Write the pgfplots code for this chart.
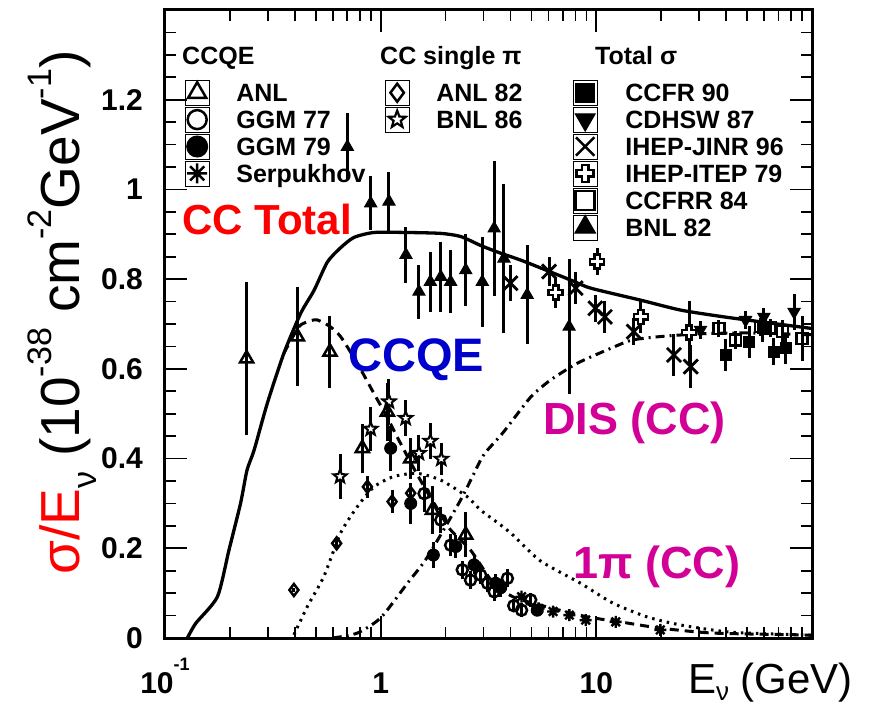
\documentclass[border=0pt]{standalone}
\usepackage{fontspec}
\setmainfont{Liberation Sans}
\usepackage{pgfplots}
\pgfplotsset{compat=1.18}
\definecolor{ccred}{RGB}{255,0,0}
\definecolor{ccblue}{RGB}{0,0,204}
\definecolor{ccmag}{RGB}{210,0,150}

\pgfdeclareplotmark{ostar}{%
  \pgfpathmoveto{\pgfqpointpolar{90}{\pgfplotmarksize}}%
  \pgfpathlineto{\pgfqpointpolar{126}{0.42\pgfplotmarksize}}%
  \pgfpathlineto{\pgfqpointpolar{162}{\pgfplotmarksize}}%
  \pgfpathlineto{\pgfqpointpolar{198}{0.42\pgfplotmarksize}}%
  \pgfpathlineto{\pgfqpointpolar{234}{\pgfplotmarksize}}%
  \pgfpathlineto{\pgfqpointpolar{270}{0.42\pgfplotmarksize}}%
  \pgfpathlineto{\pgfqpointpolar{306}{\pgfplotmarksize}}%
  \pgfpathlineto{\pgfqpointpolar{342}{0.42\pgfplotmarksize}}%
  \pgfpathlineto{\pgfqpointpolar{18}{\pgfplotmarksize}}%
  \pgfpathlineto{\pgfqpointpolar{54}{0.42\pgfplotmarksize}}%
  \pgfpathclose\pgfusepathqfillstroke}
\pgfdeclareplotmark{ocross}{%
  \pgfpathmoveto{\pgfqpoint{0.38\pgfplotmarksize}{\pgfplotmarksize}}%
  \pgfpathlineto{\pgfqpoint{0.38\pgfplotmarksize}{0.38\pgfplotmarksize}}%
  \pgfpathlineto{\pgfqpoint{\pgfplotmarksize}{0.38\pgfplotmarksize}}%
  \pgfpathlineto{\pgfqpoint{\pgfplotmarksize}{-0.38\pgfplotmarksize}}%
  \pgfpathlineto{\pgfqpoint{0.38\pgfplotmarksize}{-0.38\pgfplotmarksize}}%
  \pgfpathlineto{\pgfqpoint{0.38\pgfplotmarksize}{-\pgfplotmarksize}}%
  \pgfpathlineto{\pgfqpoint{-0.38\pgfplotmarksize}{-\pgfplotmarksize}}%
  \pgfpathlineto{\pgfqpoint{-0.38\pgfplotmarksize}{-0.38\pgfplotmarksize}}%
  \pgfpathlineto{\pgfqpoint{-\pgfplotmarksize}{-0.38\pgfplotmarksize}}%
  \pgfpathlineto{\pgfqpoint{-\pgfplotmarksize}{0.38\pgfplotmarksize}}%
  \pgfpathlineto{\pgfqpoint{-0.38\pgfplotmarksize}{0.38\pgfplotmarksize}}%
  \pgfpathlineto{\pgfqpoint{-0.38\pgfplotmarksize}{\pgfplotmarksize}}%
  \pgfpathclose\pgfusepathqfillstroke}
\pgfdeclareplotmark{ast8}{%
  \pgfpathmoveto{\pgfqpoint{-\pgfplotmarksize}{0pt}}\pgfpathlineto{\pgfqpoint{\pgfplotmarksize}{0pt}}%
  \pgfpathmoveto{\pgfqpoint{0pt}{-\pgfplotmarksize}}\pgfpathlineto{\pgfqpoint{0pt}{\pgfplotmarksize}}%
  \pgfpathmoveto{\pgfqpointpolar{45}{\pgfplotmarksize}}\pgfpathlineto{\pgfqpointpolar{225}{\pgfplotmarksize}}%
  \pgfpathmoveto{\pgfqpointpolar{135}{\pgfplotmarksize}}\pgfpathlineto{\pgfqpointpolar{315}{\pgfplotmarksize}}%
  \pgfusepathqstroke}

\newcommand{\sups}[1]{\raisebox{0.52em}{\fontsize{34}{34}\selectfont #1}}

\pgfplotsset{
  ebar/.style={error bars/y dir=both, error bars/y explicit, error bars/error mark=none,
    error bars/error bar style={line width=3pt, black}},
  dpts/.style={only marks, black},
  legax/.style={at={(0pt,0pt)}, anchor=south west, scale only axis, width=647pt, height=628pt,
    hide axis, xmin=0, xmax=1, ymin=0, ymax=1,
    legend image code/.code={\path (-12pt,-12.5pt) rectangle (12pt,12.5pt); \draw[##1] plot coordinates {(0pt,0pt)};},
    legend style={anchor=north west, draw=none, fill=none, inner sep=0pt, outer sep=0pt,
      row sep=1.5pt, column sep=27pt, font=\fontsize{25}{25}\selectfont\bfseries,
      cells={anchor=west}, nodes={inner sep=0pt, text height=17.9pt, text depth=0pt}}},
}

\begin{document}
\begin{tikzpicture}
\useasboundingbox (-165pt,-69pt) rectangle (709pt,638pt);
\begin{axis}[
  at={(0pt,0pt)}, anchor=south west,
  scale only axis, width=647pt, height=628pt,
  xmode=log, xmin=0.1, xmax=100, ymin=0, ymax=1.4,
  xtick={0.1,1,10,100}, xticklabels={10\raisebox{23pt}{\fontsize{18}{18}\selectfont -1},1,10,{}},
  minor xtick={0.2,0.3,0.4,0.5,0.6,0.7,0.8,0.9,2,3,4,5,6,7,8,9,20,30,40,50,60,70,80,90},
  ytick={0,0.2,0.4,0.6,0.8,1.0,1.2,1.4}, yticklabels={0,0.2,0.4,0.6,0.8,1,1.2,{}},
  minor y tick num=3,
  major tick length=22pt, minor tick length=11pt,
  tick style={black, line width=1.8pt},
  axis line style={line width=3pt},
  xticklabel style={font=\fontsize{30}{30}\selectfont\bfseries, anchor=base, inner sep=0pt, yshift=-55pt},
  yticklabel style={font=\fontsize{30}{30}\selectfont\bfseries, anchor=east, inner sep=0pt, xshift=-22pt},
]
% CC total
\addplot[black, line width=3.3pt, smooth, tension=0.4] table[x=x,y=y] {
x y
0.127 0.000
0.139 0.033
0.175 0.092
0.198 0.196
0.224 0.300
0.240 0.374
0.259 0.419
0.298 0.523
0.356 0.635
0.426 0.724
0.491 0.775
0.566 0.838
0.652 0.870
0.752 0.893
0.931 0.904
1.33 0.904
1.90 0.902
2.35 0.895
2.91 0.875
3.50 0.860
4.60 0.840
7.60 0.798
9.41 0.780
16.1 0.753
24.6 0.731
38.9 0.716
59.7 0.704
100 0.690
};
% CCQE
\addplot[black, line width=3pt, dash pattern=on 9pt off 6pt, smooth, tension=0.4] table[x=x,y=y] {
x y
0.356 0.635
0.400 0.680
0.426 0.698
0.470 0.707
0.509 0.709
0.580 0.695
0.652 0.672
0.780 0.612
0.931 0.545
1.07 0.493
1.19 0.449
1.40 0.385
1.60 0.335
1.85 0.285
2.11 0.241
2.61 0.196
3.30 0.125
4.14 0.091
5.94 0.069
9.10 0.047
12.9 0.036
19.8 0.022
34.8 0.011
88 0.007
100 0.006
};
% DIS
\addplot[black, line width=3pt, dash pattern=on 9pt off 5pt on 2pt off 5pt, smooth, tension=0.4] table[x=x,y=y] {
x y
0.60 0.000
0.78 0.011
1.00 0.045
1.33 0.122
1.65 0.181
2.35 0.308
2.91 0.397
3.13 0.419
3.71 0.459
4.96 0.537
6.13 0.575
8.20 0.613
11.7 0.646
14.6 0.664
19.8 0.672
30 0.678
50 0.680
100 0.676
};
% 1pi
\addplot[black, line width=3pt, dash pattern=on 2.5pt off 5pt, smooth, tension=0.4] table[x=x,y=y] {
x y
0.396 0.007
0.457 0.070
0.545 0.137
0.652 0.234
0.780 0.293
0.931 0.337
1.15 0.360
1.48 0.367
1.90 0.352
2.52 0.315
2.91 0.285
3.60 0.252
4.14 0.228
5.50 0.172
8.45 0.122
11.9 0.078
17.2 0.047
24.6 0.029
42 0.013
88 0.007
100 0.006
};
% BNL 82 (total)
\addplot[dpts, mark=triangle*, mark size=7pt, mark options={black, solid, line width=1pt}, ebar] table[x=x,y=y,y error=e] {
x y e
0.701 1.095 0.075
0.899 0.969 0.060
1.093 0.973 0.065
1.31 0.854 0.063
1.505 0.772 0.060
1.70 0.794 0.067
1.90 0.805 0.078
2.11 0.794 0.070
2.48 0.820 0.080
2.96 0.794 0.100
3.36 0.913 0.150
3.73 0.846 0.165
4.78 0.765 0.110
7.48 0.694 0.150
};
% IHEP-JINR 96
\addplot[dpts, mark=x, mark size=10pt, mark options={black, solid, line width=2.8pt}, ebar] table[x=x,y=y,y error=e] {
x y e
4.00 0.791 0.040
6.04 0.817 0.033
8.02 0.780 0.035
9.90 0.735 0.030
10.96 0.716 0.035
14.9 0.683 0.030
22.9 0.631 0.047
27.4 0.605 0.048
};
% IHEP-ITEP 79
\addplot[dpts, mark=ocross, mark size=7pt, mark options={black, solid, fill=white, line width=2.4pt}, ebar] table[x=x,y=y,y error=e] {
x y e
6.48 0.770 0.035
10.1 0.839 0.030
16.1 0.716 0.035
26.9 0.681 0.070
};
% CCFR 90
\addplot[dpts, mark=square*, mark size=5.5pt, mark options={black, solid, line width=1pt}, ebar] table[x=x,y=y,y error=e] {
x y e
39.8 0.631 0.035
51.1 0.660 0.035
59.0 0.690 0.030
66.6 0.638 0.030
75.6 0.646 0.035
};
% CDHSW 87
\addplot[dpts, mark=triangle*, mark size=7pt, mark options={black, solid, rotate=180, line width=1pt}, ebar] table[x=x,y=y,y error=e] {
x y e
30.4 0.687 0.020
49.2 0.709 0.020
59.8 0.716 0.020
82.6 0.727 0.040
};
% CCFRR 84
\addplot[dpts, mark=square, mark size=5.5pt, mark options={black, solid, fill=white, line width=2.5pt}, ebar] table[x=x,y=y,y error=e] {
x y e
37.0 0.690 0.020
44.3 0.664 0.020
57.8 0.694 0.020
64.0 0.691 0.020
72.8 0.683 0.025
90.0 0.668 0.050
};
% ANL 82 (CC 1pi)
\addplot[dpts, mark=diamond, mark size=6pt, mark options={black, solid, fill=white, line width=2.5pt}, ebar] table[x=x,y=y,y error=e] {
x y e
0.396 0.107 0.005
0.625 0.211 0.010
0.868 0.337 0.025
1.13 0.304 0.025
1.378 0.323 0.020
};
% BNL 86 (CC 1pi)
\addplot[dpts, mark=ostar, mark size=7pt, mark options={black, solid, fill=white, line width=2pt}, ebar] table[x=x,y=y,y error=e] {
x y e
0.648 0.360 0.050
0.899 0.466 0.050
1.093 0.527 0.050
1.306 0.490 0.040
1.505 0.412 0.040
1.70 0.439 0.040
1.91 0.399 0.035
};
% GGM 77
\addplot[dpts, mark=o, mark size=5.5pt, mark options={black, solid, fill=white, line width=2.5pt}, ebar] table[x=x,y=y,y error=e] {
x y e
1.59 0.322 0.040
1.90 0.263 0.030
2.11 0.207 0.025
2.39 0.152 0.020
2.61 0.129 0.020
2.91 0.140 0.020
3.13 0.122 0.020
3.36 0.103 0.020
3.87 0.133 0.020
4.14 0.072 0.015
4.50 0.062 0.015
4.96 0.085 0.015
};
% GGM 79
\addplot[dpts, mark=*, mark size=6pt, mark options={black, solid, line width=1pt}, ebar] table[x=x,y=y,y error=e] {
x y e
1.113 0.423 0.050
1.378 0.300 0.045
1.755 0.185 0.030
2.23 0.204 0.025
2.71 0.163 0.020
3.41 0.122 0.020
3.60 0.112 0.020
5.32 0.062 0.012
};
% ANL CCQE
\addplot[dpts, mark=triangle, mark size=7.5pt, mark options={black, solid, fill=white, line width=2.5pt}, ebar] table[x=x,y=y,y error=e] {
x y e
0.239 0.623 0.170
0.411 0.672 0.110
0.582 0.638 0.080
0.822 0.423 0.055
1.074 0.504 0.065
1.378 0.400 0.045
1.737 0.285 0.054
2.48 0.230 0.050
};
% Serpukhov
\addplot[dpts, mark=ast8, mark size=6pt, mark options={black, solid, line width=2.4pt}] table[x=x,y=y] {
x y
4.5 0.092
5.4 0.066
6.3 0.059
7.5 0.051
8.93 0.040
12.3 0.036
19.8 0.018
};
\end{axis}

% legend column 1: CCQE
\begin{axis}[legax, legend style={at={(0.0309,0.8885)}}]
\addlegendimage{black, mark=triangle, mark size=10.5pt, mark options={line width=2.5pt, fill=white}}
\addlegendentry{ANL}
\addlegendimage{black, mark=o, mark size=9.5pt, mark options={line width=2.5pt, fill=white}}
\addlegendentry{GGM 77}
\addlegendimage{black, mark=*, mark size=10.5pt, mark options={line width=1pt}}
\addlegendentry{GGM 79}
\addlegendimage{black, mark=ast8, mark size=10pt, mark options={line width=2.5pt}}
\addlegendentry{Serpukhov}
\end{axis}
% legend column 2: CC single pi
\begin{axis}[legax, legend style={at={(0.3400,0.8885)}}]
\addlegendimage{black, mark=diamond, mark size=9pt, mark options={line width=2.5pt, fill=white}}
\addlegendentry{ANL 82}
\addlegendimage{black, mark=ostar, mark size=9pt, mark options={line width=2.2pt, fill=white}}
\addlegendentry{BNL 86}
\end{axis}
% legend column 3: Total sigma
\begin{axis}[legax, legend style={at={(0.6306,0.8885)}, column sep=28pt}]
\addlegendimage{black, mark=square*, mark size=9.5pt, mark options={line width=1pt}}
\addlegendentry{CCFR 90}
\addlegendimage{black, mark=triangle*, mark size=11.5pt, mark options={rotate=180, line width=1pt}}
\addlegendentry{CDHSW 87}
\addlegendimage{black, mark=x, mark size=13pt, mark options={line width=2.5pt}}
\addlegendentry{IHEP-JINR 96}
\addlegendimage{black, mark=ocross, mark size=8.5pt, mark options={line width=2.5pt, fill=white}}
\addlegendentry{IHEP-ITEP 79}
\addlegendimage{black, mark=square, mark size=9.5pt, mark options={line width=2.5pt, fill=white}}
\addlegendentry{CCFRR 84}
\addlegendimage{black, mark=triangle*, mark size=12pt, mark options={line width=1pt}}
\addlegendentry{BNL 82}
\end{axis}

% legend headers
\node[anchor=base west, inner sep=0pt, font=\fontsize{25}{25}\selectfont\bfseries] at (17pt,573pt) {CCQE};
\node[anchor=base west, inner sep=0pt, font=\fontsize{25}{25}\selectfont\bfseries] at (215pt,573pt) {CC single π};
\node[anchor=base west, inner sep=0pt, font=\fontsize{25}{25}\selectfont\bfseries] at (430pt,573pt) {Total σ};

% curve labels
\node[anchor=base west, inner sep=0pt, text=ccred, font=\fontsize{42}{42}\selectfont\bfseries] at (17pt,403pt) {CC Total};
\node[anchor=base west, inner sep=0pt, text=ccblue, font=\fontsize{47}{47}\selectfont\bfseries] at (183pt,266pt) {CCQE};
\node[anchor=base west, inner sep=0pt, text=ccmag, font=\fontsize{45}{45}\selectfont\bfseries] at (378pt,204pt) {DIS (CC)};
\node[anchor=base west, inner sep=0pt, text=ccmag, font=\fontsize{45}{45}\selectfont\bfseries] at (408pt,60pt) {1π (CC)};

% axis titles
\node[rotate=90, anchor=base west, inner sep=0pt, font=\fontsize{55}{55}\selectfont] at (-85pt,63pt)
  {\textcolor{ccred}{σ/E}\raisebox{-17pt}{\fontsize{34}{34}\selectfont ν} (10\sups{-38} cm\sups{-2}GeV\sups{-1})};
\node[anchor=base west, inner sep=0pt, font=\fontsize{42}{42}\selectfont] at (523pt,-55pt) {E\raisebox{-7pt}{\fontsize{26}{26}\selectfont ν} (GeV)};
\end{tikzpicture}
\end{document}
